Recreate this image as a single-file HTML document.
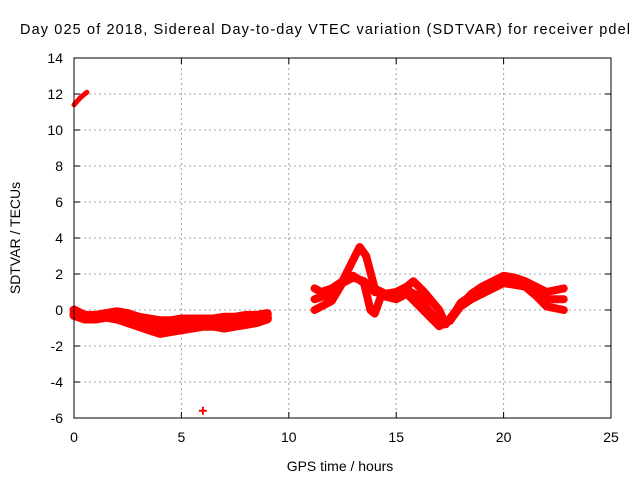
<!DOCTYPE html>
<html><head><meta charset="utf-8"><style>
body{margin:0;background:#fff}
svg{display:block;font-family:"Liberation Sans",sans-serif}
</style></head><body>
<svg id="c" width="640" height="480">
<text x="325" y="34" font-size="14.5" text-anchor="middle" textLength="610" lengthAdjust="spacing">Day 025 of 2018, Sidereal Day-to-day VTEC variation (SDTVAR) for receiver pdel</text>
<text x="340" y="471" font-size="14" text-anchor="middle">GPS time / hours</text>
<text transform="translate(20,238) rotate(-90)" font-size="14" text-anchor="middle">SDTVAR / TECUs</text>
<g id="grid"></g><g id="ticks"></g><g id="data"></g>
<rect x="74" y="58" width="537" height="360" fill="none" stroke="#000" stroke-width="1"/>
</svg>
<script>
const xTicks=[0,5,10,15,20,25];
const yTicks=[-6,-4,-2,0,2,4,6,8,10,12,14];
const morningUpperX=[0,0.5,1,1.5,2,2.5,3,3.5,4,4.5,5,5.5,6,6.5,7,7.5,8,8.5,9];
const morningUpperY=[0.0,-0.3,-0.3,-0.2,-0.1,-0.2,-0.4,-0.5,-0.6,-0.6,-0.5,-0.5,-0.5,-0.5,-0.4,-0.4,-0.3,-0.3,-0.2];
const morningMidX=[0,0.5,1,1.5,2,2.5,3,3.5,4,4.5,5,5.5,6,6.5,7,7.5,8,8.5,9];
const morningMidY=[-0.2,-0.4,-0.4,-0.3,-0.3,-0.5,-0.7,-0.8,-0.9,-0.9,-0.8,-0.7,-0.7,-0.7,-0.7,-0.7,-0.6,-0.5,-0.4];
const morningLowerX=[0,0.5,1,1.5,2,2.5,3,3.5,4,4.5,5,5.5,6,6.5,7,7.5,8,8.5,9];
const morningLowerY=[-0.3,-0.5,-0.5,-0.4,-0.5,-0.7,-0.9,-1.1,-1.3,-1.2,-1.1,-1.0,-0.9,-0.9,-1.0,-0.9,-0.8,-0.7,-0.5];
const pmUpperX=[11.2,11.5,12,12.5,13,13.3,13.6,14,14.5,15,15.5,15.8,16.3,17,17.3,17.8,18.5,19,19.5,20,20.5,21,21.5,22,22.8];
const pmUpperY=[1.2,1.0,1.2,1.6,2.8,3.5,3.0,1.2,0.9,1.0,1.3,1.6,1.0,0.0,-0.8,0.0,0.9,1.3,1.6,1.9,1.8,1.6,1.3,1.0,1.2];
const pmMidX=[11.2,12,12.5,13,13.5,14,14.5,15,15.5,16,16.5,17,17.5,18,18.5,19,19.5,20,20.5,21,21.5,22,22.8];
const pmMidY=[0.6,0.9,1.5,1.8,1.6,1.0,0.9,0.9,1.1,0.8,0.0,-0.7,-0.6,0.4,0.8,1.1,1.4,1.7,1.6,1.5,1.1,0.6,0.6];
const pmLowerX=[11.2,12,12.5,13,13.5,13.8,14,14.3,15,15.5,16,16.5,17,17.5,18,18.5,19,19.5,20,20.5,21,21.5,22,22.8];
const pmLowerY=[0.0,0.5,1.5,1.9,1.5,0.0,-0.2,0.8,0.6,0.9,0.3,-0.3,-0.9,-0.6,0.2,0.6,0.9,1.2,1.5,1.4,1.3,0.8,0.2,0.0];
const earlyX=[0,0.3,0.6];
const earlyY=[11.4,11.8,12.1];
const outlierX=[6];
const outlierY=[-5.6];
const NS='http://www.w3.org/2000/svg';
const X=v=>74+v*537/25, Y=v=>418-(v+6)*18;
const grid=document.getElementById('grid'),ticks=document.getElementById('ticks'),data=document.getElementById('data');
function mk(tag,attrs,parent){const e=document.createElementNS(NS,tag);for(const k in attrs)e.setAttribute(k,attrs[k]);parent.appendChild(e);return e;}
xTicks.forEach(t=>{
 if(t>0&&t<25){const g=mk('line',{x1:X(t),x2:X(t),y1:58,y2:418,stroke:'#a0a0a0','stroke-dasharray':'2,3'},grid);
 
 }
 mk('line',{x1:X(t),x2:X(t),y1:418,y2:412,stroke:'#000'},ticks);
 mk('line',{x1:X(t),x2:X(t),y1:58,y2:64,stroke:'#000'},ticks);
 const l=mk('text',{x:X(t),y:442,'font-size':14,'text-anchor':'middle'},ticks);l.textContent=t;
 
 
});
yTicks.forEach(t=>{
 if(t>-6&&t<14){const g=mk('line',{x1:74,x2:611,y1:Y(t),y2:Y(t),stroke:'#a0a0a0','stroke-dasharray':'2,3'},grid);
 
 }
 mk('line',{x1:74,x2:80,y1:Y(t),y2:Y(t),stroke:'#000'},ticks);
 mk('line',{x1:611,x2:605,y1:Y(t),y2:Y(t),stroke:'#000'},ticks);
 const l=mk('text',{x:63,y:Y(t)+5,'font-size':14,'text-anchor':'end'},ticks);l.textContent=t;
 
 
});
function band(xs,ys,name,w){
 const p=mk('polyline',{points:xs.map((x,i)=>X(x)+','+Y(ys[i])).join(' '),fill:'none',stroke:'#f00','stroke-width':w,'stroke-linejoin':'round','stroke-linecap':'round'},data);
 
 
}
band(morningUpperX,morningUpperY,'morning-upper-band',9);
band(morningMidX,morningMidY,'morning-mid-band',9);
band(morningLowerX,morningLowerY,'morning-lower-band',9);
band(pmUpperX,pmUpperY,'afternoon-upper-band',8);
band(pmMidX,pmMidY,'afternoon-mid-band',8);
band(pmLowerX,pmLowerY,'afternoon-lower-band',8);
band(earlyX,earlyY,'early-segment',5);
outlierX.forEach((x,i)=>{
 const g=mk('path',{d:`M${X(x)-4},${Y(outlierY[i])}h8M${X(x)},${Y(outlierY[i])-4}v8`,stroke:'#f00','stroke-width':2},data);
 
 
});
</script>
</body></html>
